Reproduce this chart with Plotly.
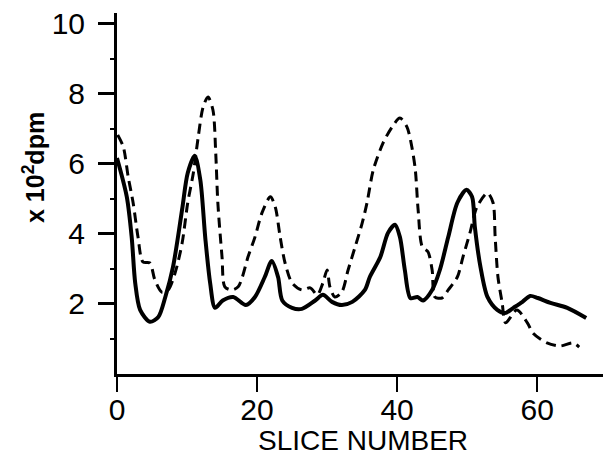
import plotly.graph_objects as go

# Solid curve (slice number, x10^2 dpm)
solid_x = [0, 1.4, 2.1, 2.6, 3.3, 4.7, 5.9, 6.9, 8.0, 9.3, 10.1, 11.1, 11.9, 12.6, 13.3, 14.0,
           15.1, 16.6, 18.4, 19.7, 21.1, 22.1, 23.0, 23.6, 25.0, 26.4, 28.3, 29.4, 30.7, 32.1,
           33.6, 35.4, 36.1, 37.6, 38.7, 39.7, 40.4, 41.1, 41.9, 42.9, 43.7, 45.0, 46.1, 47.3,
           48.6, 49.9, 50.7, 51.1, 51.9, 52.9, 54.3, 55.4, 56.6, 57.9, 59.0, 60.1, 61.9, 64.3, 67.0]
solid_y = [6.17, 5.06, 3.9, 2.6, 1.83, 1.49, 1.63, 2.2, 3.06, 4.7, 5.74, 6.23, 5.54, 3.9, 2.6, 1.89,
           2.1, 2.2, 1.97, 2.2, 2.77, 3.23, 2.77, 2.1, 1.89, 1.86, 2.1, 2.26, 2.06, 1.97,
           2.06, 2.4, 2.77, 3.34, 4.03, 4.26, 3.91, 2.97, 2.17, 2.2, 2.1, 2.4, 2.97, 3.91,
           4.89, 5.26, 5.06, 4.2, 3.06, 2.2, 1.83, 1.74, 1.89, 2.06, 2.23, 2.17, 2.03, 1.89, 1.6]

# Dashed curve
dash_x = [0.1, 0.9, 1.6, 2.3, 3.0, 3.7, 4.7, 5.4, 6.4, 7.3, 8.3, 9.3, 10.1, 10.9, 11.6, 12.3,
          13.0, 13.7, 14.1, 14.4, 15.0, 15.4, 16.4, 17.3, 17.9, 18.7, 19.7, 20.7, 21.9, 22.6,
          23.3, 24.0, 25.0, 26.4, 27.6, 28.6, 29.4, 30.0, 30.4, 31.1, 32.1, 33.0, 34.0, 35.0,
          35.7, 36.6, 38.0, 39.3, 40.4, 41.4, 42.1, 42.6, 43.0, 43.6, 44.4, 45.0, 45.4, 46.4,
          47.3, 48.6, 49.4, 50.4, 51.4, 52.9, 53.7, 54.0, 54.4, 55.0, 55.5, 57.1, 58.6, 59.4,
          61.4, 63.3, 65.1, 66.0]
dash_y = [6.83, 6.49, 5.63, 4.89, 3.91, 3.2, 3.17, 2.69, 2.34, 2.4, 2.89, 3.74, 4.89, 5.74, 6.77, 7.63,
          7.91, 7.54, 6.31, 4.89, 3.34, 2.49, 2.4, 2.49, 2.77, 3.34, 3.91, 4.6, 5.06, 4.77,
          3.91, 3.17, 2.6, 2.4, 2.46, 2.26, 2.6, 2.97, 2.49, 2.2, 2.34, 2.97, 3.63, 4.3,
          4.89, 5.83, 6.6, 7.06, 7.31, 7.06, 6.49, 5.83, 4.69, 3.63, 3.49, 2.97, 2.2, 2.17,
          2.4, 2.77, 3.34, 4.03, 4.77, 5.17, 4.89, 3.91, 2.77, 2.03, 1.46, 1.83, 1.46, 1.17,
          0.89, 0.8, 0.89, 0.77]

x_ticks = [0, 20, 40, 60]
y_ticks = [2, 4, 6, 8, 10]

FONT = "Liberation Sans"

fig = go.Figure()
fig.add_trace(go.Scatter(x=dash_x, y=dash_y, mode="lines",
                         line=dict(color="black", width=3, dash="10px,6px", shape="spline", smoothing=0.8),
                         showlegend=False))
fig.add_trace(go.Scatter(x=solid_x, y=solid_y, mode="lines",
                         line=dict(color="black", width=4, shape="spline", smoothing=0.8),
                         showlegend=False))

fig.update_layout(
    width=606, height=466,
    margin=dict(l=117, r=3, t=13, b=92),
    paper_bgcolor="white", plot_bgcolor="white",
    font=dict(family=FONT, size=28, color="black"),
    xaxis=dict(range=[0, 69.4], tickvals=x_ticks, ticks="outside", ticklen=15, tickwidth=2,
               tickcolor="black", showline=True, linecolor="black", linewidth=2.5,
               showgrid=False, zeroline=False, ticklabelstandoff=-8,
               tickfont=dict(family=FONT, size=30, color="black")),
    yaxis=dict(range=[0, 10.31], tickvals=y_ticks, ticks="outside", ticklen=16, tickwidth=2.5,
               tickcolor="black", showline=True, linecolor="black", linewidth=3,
               showgrid=False, zeroline=False, ticklabelstandoff=7,
               minor=dict(tickvals=[1, 3, 5, 7, 9], ticks="outside", ticklen=4, tickwidth=2, tickcolor="black"),
               tickfont=dict(family=FONT, size=30, color="black")),
    annotations=[
        dict(text="SLICE NUMBER", xref="paper", yref="paper", x=0.506, y=-0.183,
             xanchor="center", yanchor="middle", showarrow=False,
             font=dict(family=FONT, size=28, color="black")),
        dict(text="<b>x 10<sup>2</sup>dpm</b>", xref="paper", yref="paper", x=-0.171, y=0.573,
             xanchor="center", yanchor="middle", showarrow=False, textangle=-90,
             font=dict(family=FONT, size=25, color="black")),
    ],
)

fig.write_html("out.html")
